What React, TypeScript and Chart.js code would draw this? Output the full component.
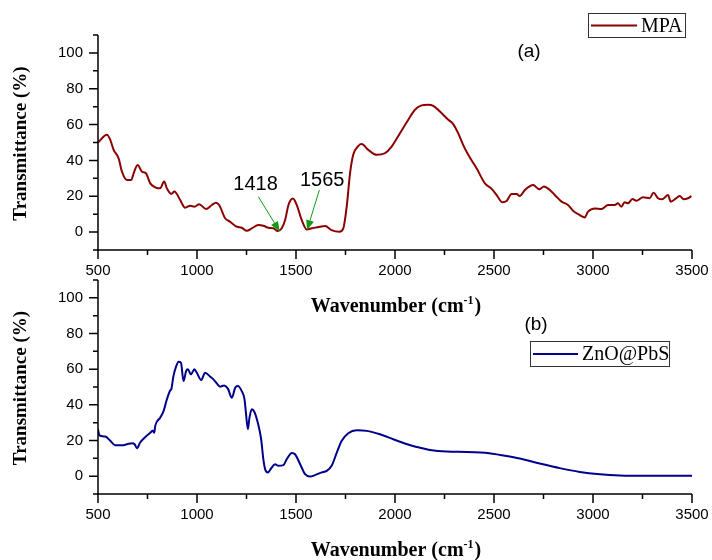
import React, { useEffect, useRef } from "react";
import { Chart, registerables } from "chart.js";

Chart.register(...registerables);

// ---------- data ----------
const mpaWavenumber = [
  500, 545, 562, 579, 604, 621, 646, 668, 680, 700, 722, 742, 764, 789, 814, 834, 848, 870, 886, 915,
  940, 966, 987, 1011, 1046, 1075, 1095, 1112, 1142, 1167, 1201, 1226, 1252, 1277, 1310, 1335, 1361,
  1386, 1408, 1428, 1445, 1462, 1484, 1504, 1529, 1554, 1580, 1621, 1647, 1680, 1719, 1739, 1756, 1773,
  1789, 1815, 1832, 1865, 1907, 1949, 1983, 2025, 2067, 2101, 2134, 2168, 2193, 2227, 2269, 2294, 2319,
  2344, 2370, 2412, 2454, 2488, 2513, 2543, 2563, 2589, 2614, 2630, 2656, 2698, 2728, 2752, 2782, 2807,
  2841, 2874, 2899, 2933, 2958, 2975, 3009, 3043, 3076, 3110, 3126, 3143, 3160, 3177, 3199, 3219, 3253,
  3286, 3306, 3328, 3350, 3379, 3392, 3421, 3438, 3458, 3480, 3497,
];
const mpaTransmittance = [
  50.0, 54.3, 51.5, 45.9, 41.2, 33.7, 29.1, 29.1, 32.8, 37.5, 33.7, 32.8, 27.2, 25.0, 24.4, 28.2, 24.4, 21.3, 22.6, 17.9,
  13.6, 14.7, 14.2, 15.5, 12.9, 15.1, 16.4, 15.1, 7.7, 5.8, 3.0, 2.4, 0.7, 2.1, 3.9, 3.5, 2.4,
  2.1, 0.6, 2.1, 6.7, 15.1, 18.7, 15.1, 6.7, 1.5, 2.1, 3.0, 3.4, 1.1, 0.2, 2.1, 14.2, 32.8,
  43.1, 48.1, 49.1, 45.9, 43.1, 44.0, 47.7, 55.2, 62.7, 68.3, 70.7, 71.1, 70.5, 67.3, 62.7, 60.3, 55.2,
  48.7, 43.1, 35.6, 27.2, 24.1, 20.7, 16.6, 17.3, 21.3, 21.3, 20.1, 23.5, 26.3, 23.9, 25.4, 23.5, 20.7,
  17.0, 15.1, 11.9, 9.5, 8.2, 11.4, 13.2, 12.9, 15.1, 15.1, 16.1, 14.2, 16.6, 16.1, 18.5, 17.5, 19.4,
  18.9, 22.0, 18.9, 18.3, 20.7, 17.0, 18.9, 20.1, 18.3, 18.9, 20.1,
];

const znoWavenumber = [
  500, 507, 537, 562, 587, 621, 646, 672, 685, 697, 713, 739, 764, 776, 784, 789, 814, 831, 848, 865,
  870, 881, 895, 907, 919, 932, 945, 954, 969, 987, 999, 1021, 1041, 1067, 1083, 1100, 1117, 1137, 1156,
  1176, 1193, 1206, 1226, 1240, 1247, 1257, 1265, 1277, 1290, 1307, 1324, 1335, 1344, 1358, 1374, 1394,
  1411, 1436, 1453, 1479, 1495, 1521, 1546, 1571, 1596, 1630, 1655, 1680, 1706, 1731, 1764, 1807, 1857,
  1924, 1991, 2050, 2109, 2176, 2261, 2362, 2476, 2530, 2630, 2731, 2832, 2933, 3035, 3136, 3269, 3500,
];
const znoTransmittance = [
  26.3, 22.9, 22.2, 19.8, 17.3, 17.3, 17.9, 18.5, 17.9, 15.7, 18.9, 22.0, 24.4, 25.4, 24.4, 28.2, 32.8, 36.5, 43.1, 48.1,
  48.7, 56.1, 61.7, 64.2, 63.6, 53.3, 58.9, 59.9, 57.1, 59.9, 58.0, 53.9, 58.0, 55.8, 54.3, 52.0, 50.2, 50.9, 49.1,
  44.0, 49.6, 50.5, 47.7, 43.1, 35.6, 26.3, 32.8, 37.5, 36.0, 30.0, 20.7, 9.5, 3.9, 2.1, 4.3, 6.7,
  5.8, 6.2, 9.5, 13.0, 12.3, 6.7, 1.1, -0.2, 0.6, 2.1, 3.0, 5.8, 13.2, 19.8, 24.1, 25.7, 25.4,
  23.5, 20.7, 18.3, 16.4, 14.7, 13.8, 13.6, 12.9, 11.9, 9.9, 7.1, 4.5, 2.4, 1.1, 0.4, 0.2, 0.2,
];

const xMin = 500;
const xMax = 3500;
const xMinorStep = 250;
const xMajorStep = 500;
const yMin = -10;
const yMax = 110;
const yMinorStep = 10;
const yMajorStep = 20;

const seriesLabels = ["MPA", "ZnO@PbS"];
const panelLabels = ["(a)", "(b)"];
const xAxisTitle = "Wavenumber (cm";
const xAxisTitleSup = "-1";
const yAxisTitle = "Transmittance (%)";

const annotationLabels = ["1418", "1565"];
const annotationTextX = [1296, 1632];
const annotationTextY = [26.3, 28.9];
const annotationTailX = [1310, 1618];
const annotationTailY = [19.7, 23.5];
const annotationTipX = [1418, 1556];
const annotationTipY = [0.3, 1.1];

// ---------- styling ----------
const SANS = '"Liberation Sans", Arial, Helvetica, sans-serif';
const SERIF = '"Liberation Serif", "Times New Roman", serif';

const decorPlugin = {
  id: "decor",
  afterDraw(chart: any, _args: any, opts: any) {
    const ctx: CanvasRenderingContext2D = chart.ctx;
    const { left, right, top, bottom } = chart.chartArea;
    const xs = chart.scales.x;
    const ys = chart.scales.y;
    ctx.save();
    ctx.strokeStyle = "#000";
    ctx.lineWidth = 1.5;
    ctx.lineCap = "butt";
    ctx.beginPath();
    ctx.moveTo(left, top);
    ctx.lineTo(left, bottom);
    ctx.lineTo(right, bottom);
    ctx.stroke();

    ctx.beginPath();
    for (const t of ys.ticks) {
      const py = ys.getPixelForValue(t.value);
      const len = Math.abs(t.value % yMajorStep) < 1e-6 ? 9 : 5;
      ctx.moveTo(left - len, py);
      ctx.lineTo(left, py);
    }
    for (const t of xs.ticks) {
      const px = xs.getPixelForValue(t.value);
      const len = Math.abs(t.value % xMajorStep) < 1e-6 ? 9 : 5;
      ctx.moveTo(px, bottom);
      ctx.lineTo(px, bottom + len);
    }
    ctx.stroke();

    // x title with superscript
    ctx.fillStyle = "#000";
    ctx.textBaseline = "alphabetic";
    ctx.textAlign = "left";
    const mainFont = `bold 20px ${SERIF}`;
    const supFont = `bold 12px ${SERIF}`;
    ctx.font = mainFont;
    const wMain = ctx.measureText(xAxisTitle).width;
    const wClose = ctx.measureText(")").width;
    ctx.font = supFont;
    const wSup = ctx.measureText(xAxisTitleSup).width;
    const total = wMain + wSup + wClose + 1;
    let sx = (left + right) / 2 + 1 - total / 2;
    const by = opts.xTitleBaseline;
    ctx.font = mainFont;
    ctx.fillText(xAxisTitle, sx, by);
    sx += wMain;
    ctx.font = supFont;
    ctx.fillText(xAxisTitleSup, sx, by - 8);
    sx += wSup + 1;
    ctx.font = mainFont;
    ctx.fillText(")", sx, by);

    // y title
    ctx.save();
    ctx.translate(21, (top + bottom) / 2 + 1);
    ctx.rotate(-Math.PI / 2);
    ctx.textAlign = "center";
    ctx.textBaseline = "middle";
    ctx.font = `bold 19px ${SERIF}`;
    ctx.fillText(yAxisTitle, 0, 0);
    ctx.restore();

    // panel label
    ctx.font = `19px ${SANS}`;
    ctx.textAlign = "center";
    ctx.textBaseline = "middle";
    ctx.fillText(opts.panelLabel, opts.panelX, opts.panelY);

    // legend box
    const ds = chart.data.datasets[0];
    const [bx, byy, bw, bh] = opts.legendBox;
    ctx.lineWidth = 1;
    ctx.strokeStyle = "#333";
    ctx.strokeRect(bx + 0.5, byy + 0.5, bw, bh);
    ctx.strokeStyle = ds.borderColor;
    ctx.lineWidth = 2;
    ctx.beginPath();
    ctx.moveTo(bx + 3, byy + bh / 2 + 0.5);
    ctx.lineTo(bx + opts.legendLine, byy + bh / 2 + 0.5);
    ctx.stroke();
    ctx.fillStyle = "#000";
    ctx.font = `20px ${SERIF}`;
    ctx.textAlign = "left";
    ctx.textBaseline = "middle";
    ctx.fillText(ds.label, bx + opts.legendLine + 4, byy + bh / 2 + 1.5);

    // annotations
    if (opts.annotations) {
      ctx.save();
      ctx.beginPath();
      ctx.rect(left, top, right - left, bottom - top);
      ctx.clip();
      for (let i = 0; i < annotationLabels.length; i++) {
        ctx.fillStyle = "#000";
        ctx.font = `20px ${SANS}`;
        ctx.textAlign = "center";
        ctx.textBaseline = "middle";
        ctx.fillText(
          annotationLabels[i],
          xs.getPixelForValue(annotationTextX[i]),
          ys.getPixelForValue(annotationTextY[i])
        );
        const x0 = xs.getPixelForValue(annotationTailX[i]);
        const y0 = ys.getPixelForValue(annotationTailY[i]);
        const x1 = xs.getPixelForValue(annotationTipX[i]);
        const y1 = ys.getPixelForValue(annotationTipY[i]);
        const ang = Math.atan2(y1 - y0, x1 - x0);
        const hl = 10;
        const hw = 4;
        ctx.strokeStyle = "#129a12";
        ctx.fillStyle = "#129a12";
        ctx.lineWidth = 1;
        ctx.beginPath();
        ctx.moveTo(x0, y0);
        ctx.lineTo(x1 - hl * Math.cos(ang), y1 - hl * Math.sin(ang));
        ctx.stroke();
        ctx.beginPath();
        ctx.moveTo(x1, y1);
        ctx.lineTo(
          x1 - hl * Math.cos(ang) + hw * Math.sin(ang),
          y1 - hl * Math.sin(ang) - hw * Math.cos(ang)
        );
        ctx.lineTo(
          x1 - hl * Math.cos(ang) - hw * Math.sin(ang),
          y1 - hl * Math.sin(ang) + hw * Math.cos(ang)
        );
        ctx.closePath();
        ctx.fill();
      }
      ctx.restore();
    }
    ctx.restore();
  },
};

function makeConfig(
  label: string,
  xs: number[],
  ys: number[],
  color: string,
  padTop: number,
  padBottom: number,
  decor: any
): any {
  return {
    type: "line",
    data: {
      datasets: [
        {
          label,
          data: xs.map((x, i) => ({ x, y: ys[i] })),
          borderColor: color,
          borderWidth: 2,
          pointRadius: 0,
          fill: false,
          cubicInterpolationMode: "monotone",
        },
      ],
    },
    options: {
      responsive: false,
      animation: false,
      devicePixelRatio: 1,
      layout: { padding: { left: 0, right: 20, top: padTop, bottom: padBottom } },
      plugins: {
        legend: { display: false },
        tooltip: { enabled: false },
        title: { display: false },
        decor,
      },
      scales: {
        x: {
          type: "linear",
          min: xMin,
          max: xMax,
          afterFit: (s: any) => {
            s.height = 40;
            s.paddingLeft = 0;
            s.paddingRight = 0;
          },
          grid: { display: false, drawTicks: false },
          border: { display: false },
          ticks: {
            stepSize: xMinorStep,
            autoSkip: false,
            maxRotation: 0,
            padding: 12,
            color: "#000",
            font: { family: SANS, size: 15 },
            callback: (v: number) => (Math.abs(v % xMajorStep) < 1e-6 ? String(v) : ""),
          },
        },
        y: {
          type: "linear",
          min: yMin,
          max: yMax,
          afterFit: (s: any) => {
            s.width = 98;
            s.paddingTop = 0;
            s.paddingBottom = 0;
          },
          grid: { display: false, drawTicks: false },
          border: { display: false },
          ticks: {
            stepSize: yMinorStep,
            autoSkip: false,
            padding: 15,
            color: "#000",
            font: { family: SANS, size: 15 },
            callback: (v: number) =>
              Math.abs(v % yMajorStep) < 1e-6 && v >= 0 && v <= 100 ? String(v) : "",
          },
        },
      },
    },
    plugins: [decorPlugin],
  };
}

export default function App() {
  const topRef = useRef<HTMLCanvasElement>(null);
  const botRef = useRef<HTMLCanvasElement>(null);

  useEffect(() => {
    const c1 = new Chart(
      topRef.current as HTMLCanvasElement,
      makeConfig(seriesLabels[0], mpaWavenumber, mpaTransmittance, "#8b0000", 35, 40, {
        xTitleBaseline: 312,
        panelLabel: panelLabels[0],
        panelX: 529,
        panelY: 52,
        legendBox: [588, 13, 97, 24],
        legendLine: 49,
        annotations: true,
      })
    );
    const c2 = new Chart(
      botRef.current as HTMLCanvasElement,
      makeConfig(seriesLabels[1], znoWavenumber, znoTransmittance, "#00008b", 10, 26, {
        xTitleBaseline: 286,
        panelLabel: panelLabels[1],
        panelX: 536,
        panelY: 55,
        legendBox: [530, 71, 139, 25],
        legendLine: 48,
        annotations: false,
      })
    );
    return () => {
      c1.destroy();
      c2.destroy();
    };
  }, []);

  return (
    <div
      style={{
        position: "absolute",
        left: 0,
        top: 0,
        width: 712,
        height: 560,
        background: "#fff",
        overflow: "hidden",
      }}
    >
      <canvas
        ref={topRef}
        width={712}
        height={330}
        style={{ position: "absolute", left: 0, top: 0, width: 712, height: 330 }}
      />
      <canvas
        ref={botRef}
        width={712}
        height={290}
        style={{ position: "absolute", left: 0, top: 270, width: 712, height: 290 }}
      />
    </div>
  );
}
